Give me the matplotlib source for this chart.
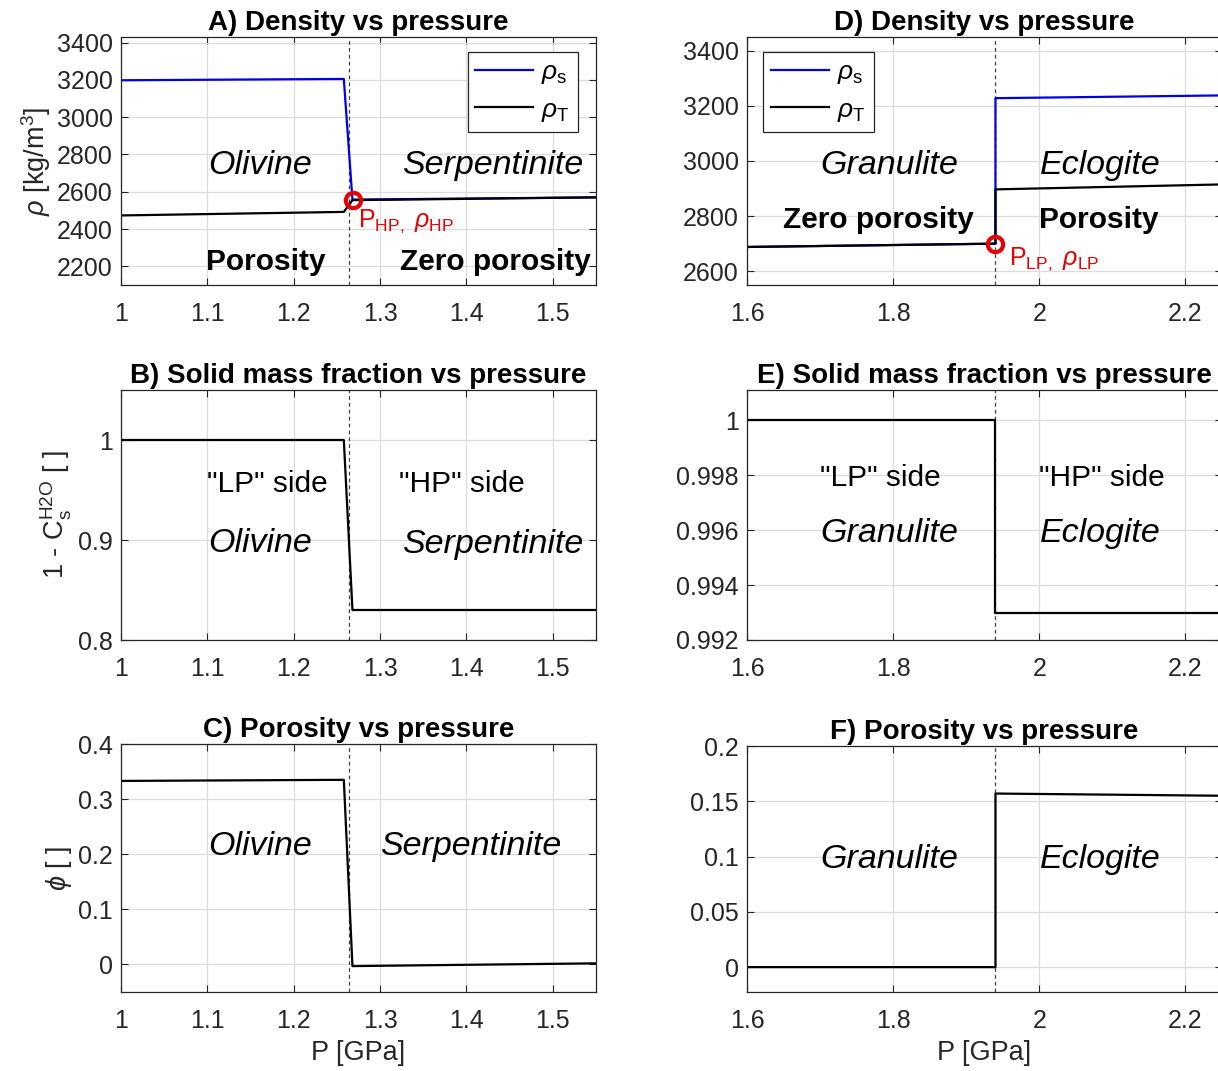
import numpy as np
import matplotlib
matplotlib.use('Agg')
import matplotlib.pyplot as plt

plt.rcParams['font.family'] = ['Liberation Sans', 'DejaVu Sans']
plt.rcParams['mathtext.fontset'] = 'custom'
plt.rcParams['mathtext.rm'] = 'Liberation Sans'
plt.rcParams['mathtext.it'] = 'Liberation Sans:italic'
plt.rcParams['mathtext.bf'] = 'Liberation Sans:bold'

# serpentinite case (left column)
P_A = [1.0, 1.258, 1.268, 1.55]
rho_s_A = [3198, 3205, 2558, 2570]
rho_T_A = [2473, 2492, 2555, 2570]
Cs_A = [1.0, 1.0, 0.83, 0.83]
phi_A = [0.333, 0.335, -0.003, 0.002]
P_HP = 1.264
P_HP_pt, rho_HP_pt = 1.2685, 2556

# eclogite case (right column)
P_D = [1.6, 1.94, 1.94, 2.25]
rho_s_D = [2688, 2700, 3228, 3238]
rho_T_D = [2688, 2700, 2897, 2915]
Cs_D = [1.0, 1.0, 0.993, 0.993]
phi_D = [0.0, 0.0, 0.157, 0.155]
P_LP = 1.94
P_LP_pt, rho_LP_pt = 1.94, 2700

xt_left = [1, 1.1, 1.2, 1.3, 1.4, 1.5]
xt_right = [1.6, 1.8, 2.0, 2.2]

FIG_W, FIG_H = 1218, 1071
fig = plt.figure(figsize=(FIG_W / 100, FIG_H / 100), dpi=100)

def box(l, t, r, b):
    return [l / FIG_W, 1 - b / FIG_H, (r - l) / FIG_W, (b - t) / FIG_H]

axA = fig.add_axes(box(121, 37, 596, 285))
axB = fig.add_axes(box(121, 390, 596, 640))
axC = fig.add_axes(box(121, 744, 596, 992))
axD = fig.add_axes(box(747, 37, 1222, 285))
axE = fig.add_axes(box(747, 390, 1222, 640))
axF = fig.add_axes(box(747, 746, 1222, 992))

axis_col = '#262626'
lw = 1.6

def style(ax, xlim, ylim, xt, yt, ytl=None):
    ax.set_xlim(xlim)
    ax.set_ylim(ylim)
    ax.set_xticks(xt)
    ax.set_xticklabels([('%g' % v) for v in xt])
    ax.set_yticks(yt)
    if ytl is not None:
        ax.set_yticklabels(ytl)
    ax.grid(True, color='#dcdcdc', lw=0.9)
    ax.set_axisbelow(True)
    ax.tick_params(direction='in', length=5, width=0.8, top=True, right=True,
                   labelsize=18, colors=axis_col, labelcolor=axis_col)
    ax.tick_params(axis='x', pad=12)
    ax.tick_params(axis='y', pad=6)
    for s in ax.spines.values():
        s.set_color(axis_col)
        s.set_linewidth(0.9)

def vline(ax, x):
    ax.axvline(x, color='#404040', lw=0.9, ls=(0, (3, 2.5)), zorder=1)

def legend(ax, **kw):
    leg = ax.legend(fontsize=19, handlelength=2.2, handletextpad=0.3, labelspacing=0.45,
                    borderpad=0.3, borderaxespad=0, fancybox=False, framealpha=1,
                    edgecolor=axis_col, **kw)
    leg.get_frame().set_linewidth(0.9)

title_kw = dict(fontsize=20, fontweight='bold', pad=5)
ital = dict(fontsize=24.5, style='italic', ha='center', va='center')
bold = dict(fontsize=21.5, fontweight='bold', ha='center', va='center')
norm = dict(fontsize=21.5, ha='center', va='center')
lab_kw = dict(fontsize=19.5, color=axis_col)

# A) density, serpentinite
vline(axA, P_HP)
axA.plot(P_A, rho_s_A, color='#0000e6', lw=lw, label=r'$\rho_{\rm s}$')
axA.plot(P_A, rho_T_A, color='k', lw=lw, label=r'$\rho_{\rm T}$')
axA.plot(P_HP_pt, rho_HP_pt, 'o', ms=11, mfc='none', mec='#e60000', mew=3)
axA.text(1.274, 2440, r'P$_{\rm HP,}$ $\rho_{\rm HP}$', color='#e60000', fontsize=18, va='center')
axA.text(1.161, 2742, 'Olivine', **ital)
axA.text(1.43, 2742, 'Serpentinite', **ital)
axA.text(1.168, 2225, 'Porosity', **bold)
axA.text(1.434, 2225, 'Zero porosity', **bold)
style(axA, (1, 1.55), (2100, 3430), xt_left, [2200, 2400, 2600, 2800, 3000, 3200, 3400])
axA.set_ylabel(r'$\rho$ [kg/m$^3$]', labelpad=3, **lab_kw)
axA.set_title('A) Density vs pressure', **title_kw)
legend(axA, loc='upper right', bbox_to_anchor=(0.962, 0.94))

# B) solid mass fraction, serpentinite
vline(axB, P_HP)
axB.plot(P_A, Cs_A, color='k', lw=lw)
axB.text(1.17, 0.956, '"LP" side', **norm)
axB.text(1.395, 0.956, '"HP" side', **norm)
axB.text(1.161, 0.896, 'Olivine', **ital)
axB.text(1.43, 0.896, 'Serpentinite', **ital)
style(axB, (1, 1.55), (0.8, 1.05), xt_left, [0.8, 0.9, 1.0], ['0.8', '0.9', '1'])
axB.set_ylabel(r'1 - C$_{\rm s}^{\rm H2O}$ [ ]', labelpad=3, **lab_kw)
axB.set_title('B) Solid mass fraction vs pressure', **title_kw)

# C) porosity, serpentinite
vline(axC, P_HP)
axC.plot(P_A, phi_A, color='k', lw=lw)
axC.text(1.161, 0.2145, 'Olivine', **ital)
axC.text(1.405, 0.2145, 'Serpentinite', **ital)
style(axC, (1, 1.55), (-0.05, 0.4), xt_left, [0, 0.1, 0.2, 0.3, 0.4], ['0', '0.1', '0.2', '0.3', '0.4'])
axC.set_ylabel(r'$\phi$ [ ]', labelpad=3, **lab_kw)
axC.set_xlabel('P [GPa]', labelpad=5, **lab_kw)
axC.set_title('C) Porosity vs pressure', **title_kw)

# D) density, eclogite
vline(axD, P_LP)
axD.plot(P_D, rho_s_D, color='#0000e6', lw=lw, label=r'$\rho_{\rm s}$')
axD.plot(P_D, rho_T_D, color='k', lw=lw, label=r'$\rho_{\rm T}$')
axD.plot(P_LP_pt, rho_LP_pt, 'o', ms=11, mfc='none', mec='#e60000', mew=3)
axD.text(1.958, 2645, r'P$_{\rm LP,}$ $\rho_{\rm LP}$', color='#e60000', fontsize=18, va='center')
axD.text(1.795, 2982, 'Granulite', **ital)
axD.text(2.083, 2982, 'Eclogite', **ital)
axD.text(1.78, 2785, 'Zero porosity', **bold)
axD.text(2.082, 2785, 'Porosity', **bold)
style(axD, (1.6, 2.25), (2550, 3450), xt_right, [2600, 2800, 3000, 3200, 3400])
axD.set_title('D) Density vs pressure', **title_kw)
legend(axD, loc='upper left', bbox_to_anchor=(0.034, 0.94))

# E) solid mass fraction, eclogite
vline(axE, P_LP)
axE.plot(P_D, Cs_D, color='k', lw=lw)
axE.text(1.782, 0.99789, '"LP" side', **norm)
axE.text(2.085, 0.99789, '"HP" side', **norm)
axE.text(1.795, 0.99589, 'Granulite', **ital)
axE.text(2.083, 0.99589, 'Eclogite', **ital)
style(axE, (1.6, 2.25), (0.992, 1.0011), xt_right, [0.992, 0.994, 0.996, 0.998, 1.0],
      ['0.992', '0.994', '0.996', '0.998', '1'])
axE.set_title('E) Solid mass fraction vs pressure', **title_kw)

# F) porosity, eclogite
vline(axF, P_LP)
axF.plot(P_D, phi_D, color='k', lw=lw)
axF.text(1.795, 0.0976, 'Granulite', **ital)
axF.text(2.083, 0.0976, 'Eclogite', **ital)
style(axF, (1.6, 2.25), (-0.0225, 0.2), xt_right, [0, 0.05, 0.1, 0.15, 0.2],
      ['0', '0.05', '0.1', '0.15', '0.2'])
axF.set_xlabel('P [GPa]', labelpad=5, **lab_kw)
axF.set_title('F) Porosity vs pressure', **title_kw)

fig.savefig('out.png', dpi=100, facecolor='white')
